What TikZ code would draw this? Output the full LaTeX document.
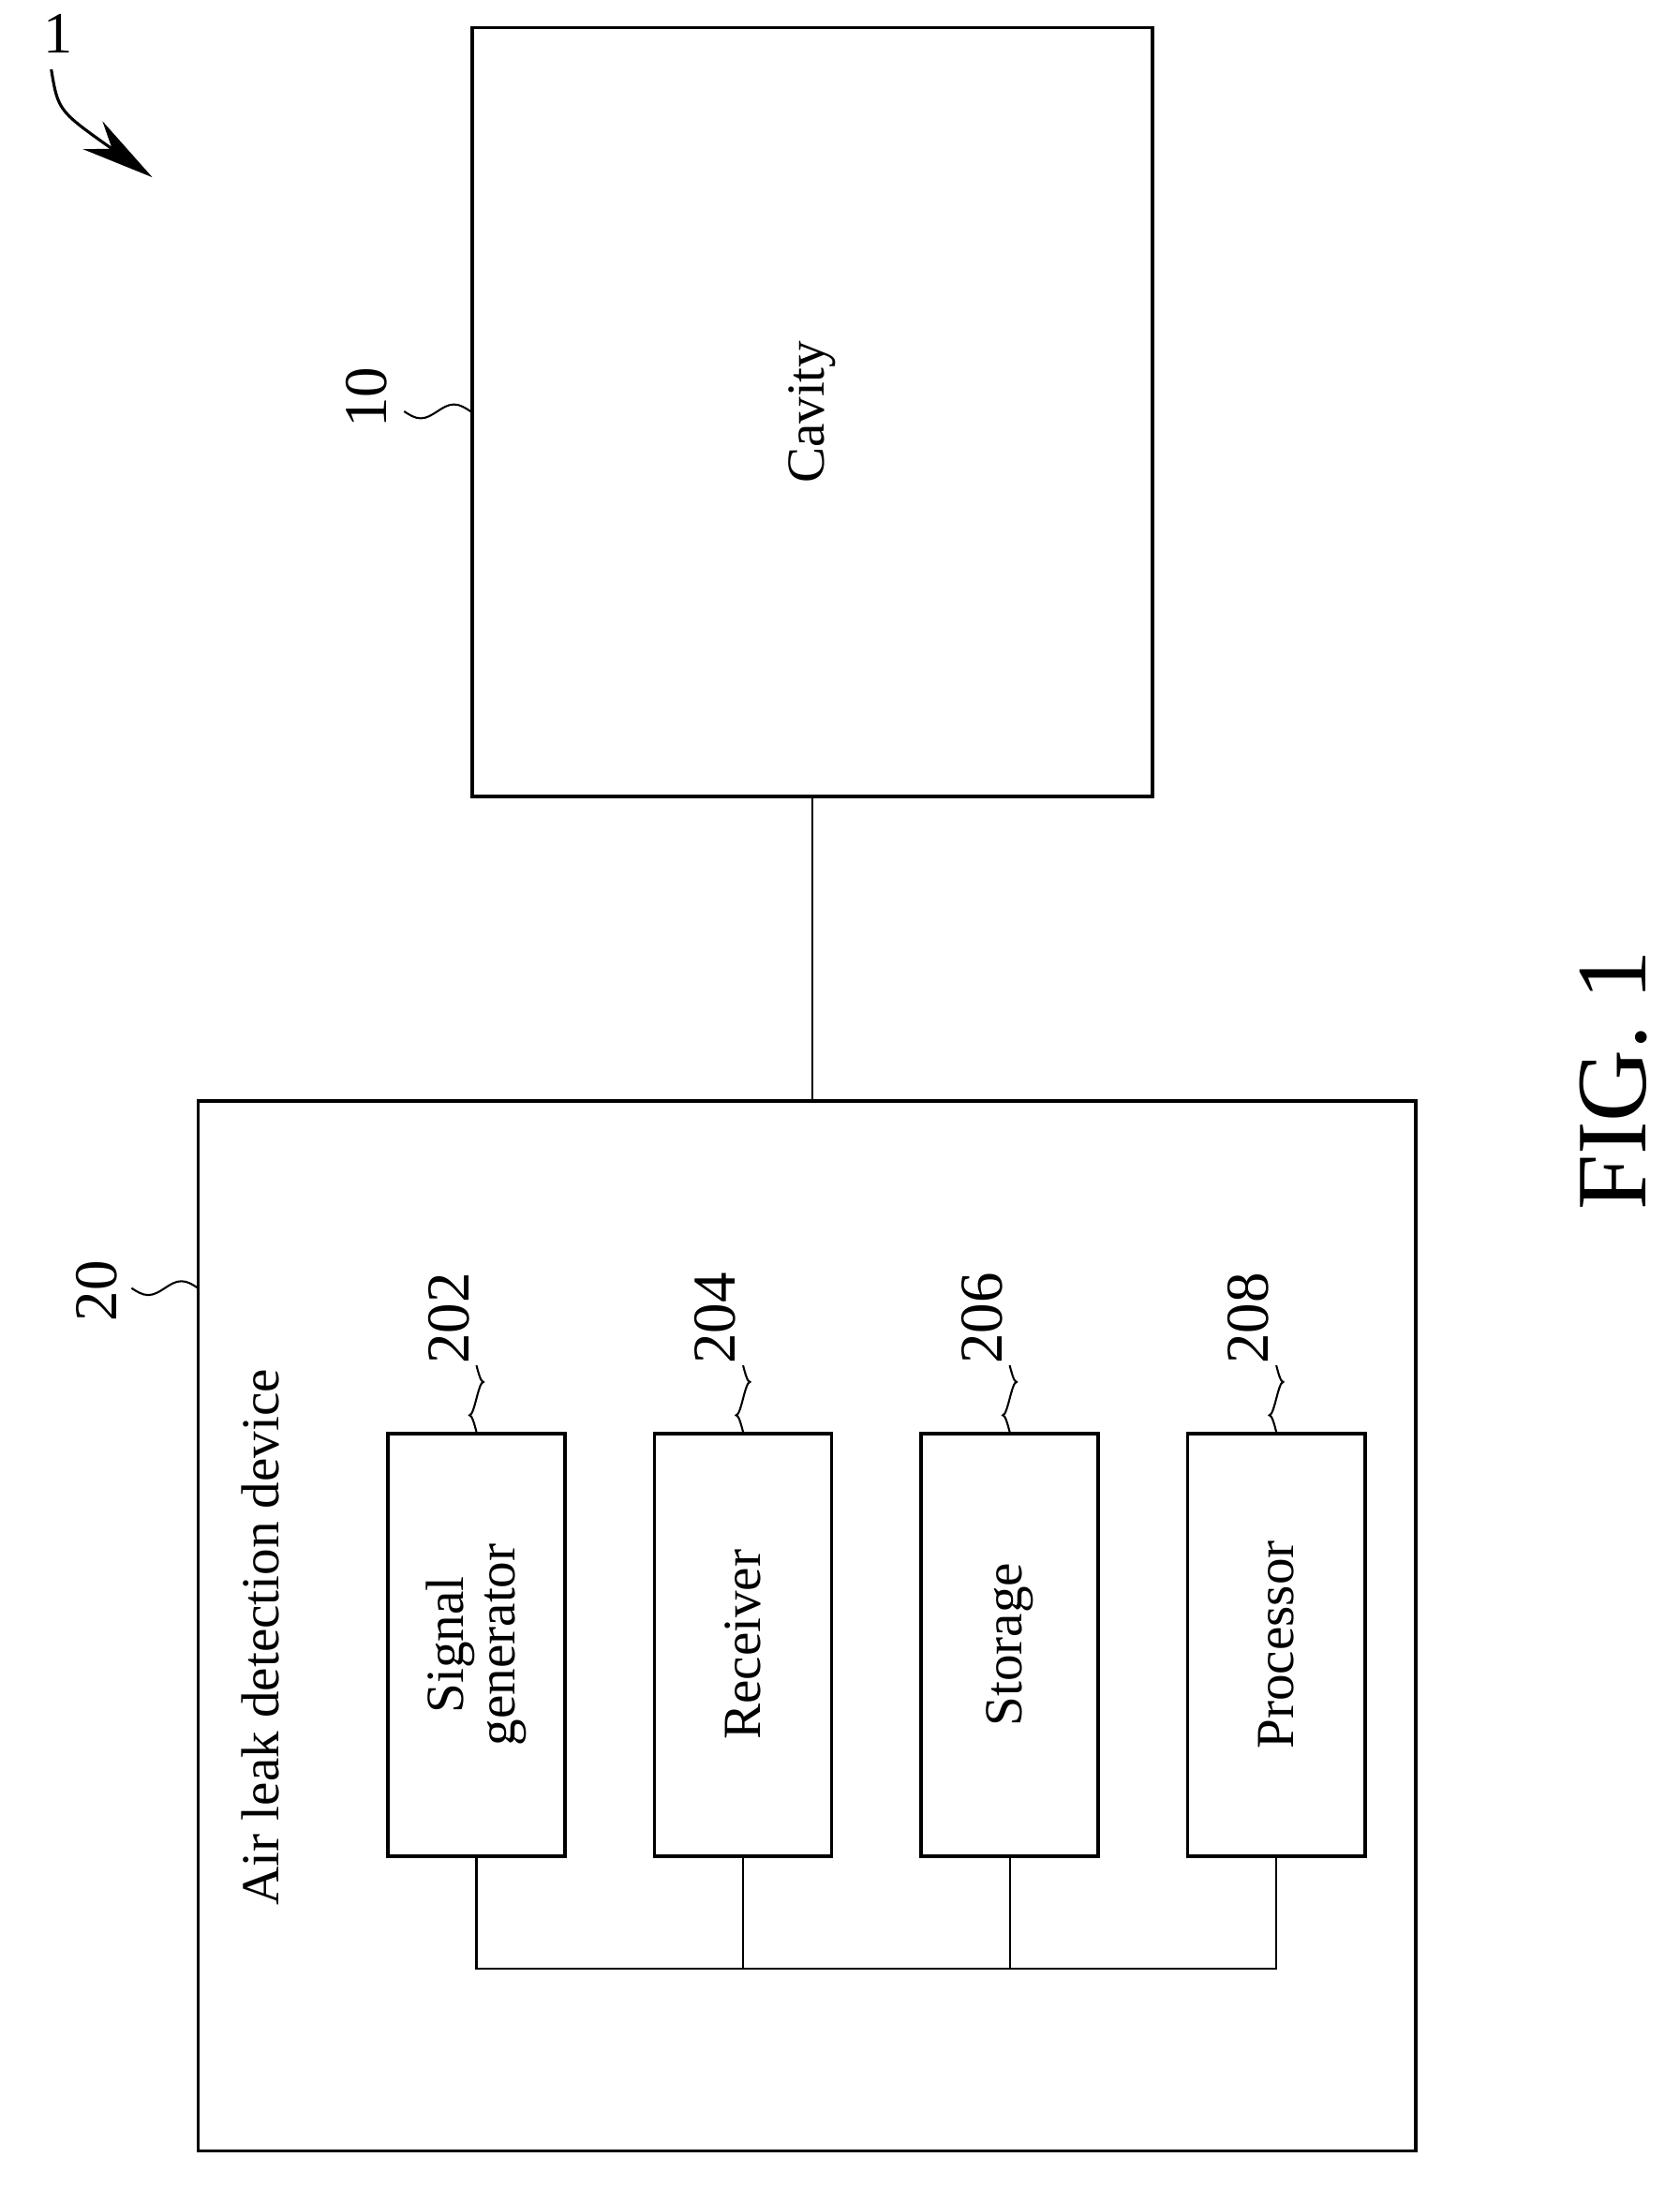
\documentclass[tikz,border=0pt]{standalone}
\usepackage{fontspec}
\setmainfont{Liberation Serif}
\usetikzlibrary{arrows.meta,calc}
\tikzset{
  box/.style={draw, line width=1.4pt, inner sep=0pt},
  lbl/.style={rotate=90, font=\fontsize{22}{24}\selectfont},
  num/.style={rotate=90, font=\fontsize{25}{27}\selectfont},
  wire/.style={line width=0.8pt},
}
\begin{document}
\begin{tikzpicture}[x=0.02cm, y=-0.02cm]
    \useasboundingbox (0,0) rectangle (1213,1579);

    \node[box, minimum width=491*0.02cm, minimum height=555*0.02cm] (cav) at (586.5, 297.5) {};
    \node[lbl] at (cav.center) {Cavity};
    \node[box, minimum width=879*0.02cm, minimum height=758*0.02cm] (dev) at (582.5, 1174) {};
    \node[lbl, anchor=south west] at (208, 1382) {Air leak detection device};

    \node[box, minimum width=128*0.02cm, minimum height=305*0.02cm] (sg) at (344, 1187.5) {};
    \node[box, minimum width=128*0.02cm, minimum height=305*0.02cm] (rc) at (536.5, 1187.5) {};
    \node[box, minimum width=128*0.02cm, minimum height=305*0.02cm] (st) at (729, 1187.5) {};
    \node[box, minimum width=128*0.02cm, minimum height=305*0.02cm] (pr) at (921.5, 1187.5) {};
    \node[lbl, align=center] at (sg.center) {Signal\\[-3pt]generator};
    \node[lbl] at (rc.center) {Receiver};
    \node[lbl] at (st.center) {Storage};
    \node[lbl] at (pr.center) {Processor};

    \draw[wire] (cav.south) -- (cav.south |- dev.north);
    \draw[wire] (sg.south) -- ++(0,80) -| (pr.south);
    \draw[wire] (rc.south) -- ++(0,80);
    \draw[wire] (st.south) -- ++(0,80);

    % reference numerals
    \node[num] at (265, 287) {10};
    \draw[wire] (cav.west |- 0,297) sin ++(-12,-5) cos ++(-12,5) sin ++(-12,5) cos ++(-12,-5);
    \node[num] at (70, 932) {20};
    \draw[wire] (143,930) sin ++(-12,-5) cos ++(-12,5) sin ++(-12,5) cos ++(-12,-5);
    \foreach \b/\n in {sg/202, rc/204, st/206, pr/208} {
      \node[num] at ($(\b.north)+(-20,-82)$) {\n};
      \draw[wire] (\b.north) sin ++(-5,-12) cos ++(5,-12) sin ++(5,-12) cos ++(-5,-12);
    }
    \node[rotate=90, font=\fontsize{41}{43}\selectfont] at (1165, 780) {FIG. 1};

    \node[font=\fontsize{24}{26}\selectfont] (one) at (42, 24) {1};
    \draw[line width=1.2pt, -{Stealth[length=30pt, width=14pt]}] (one.south) ++(-5,6) .. controls (42,80) .. (110,128);
  \end{tikzpicture}
\end{document}
